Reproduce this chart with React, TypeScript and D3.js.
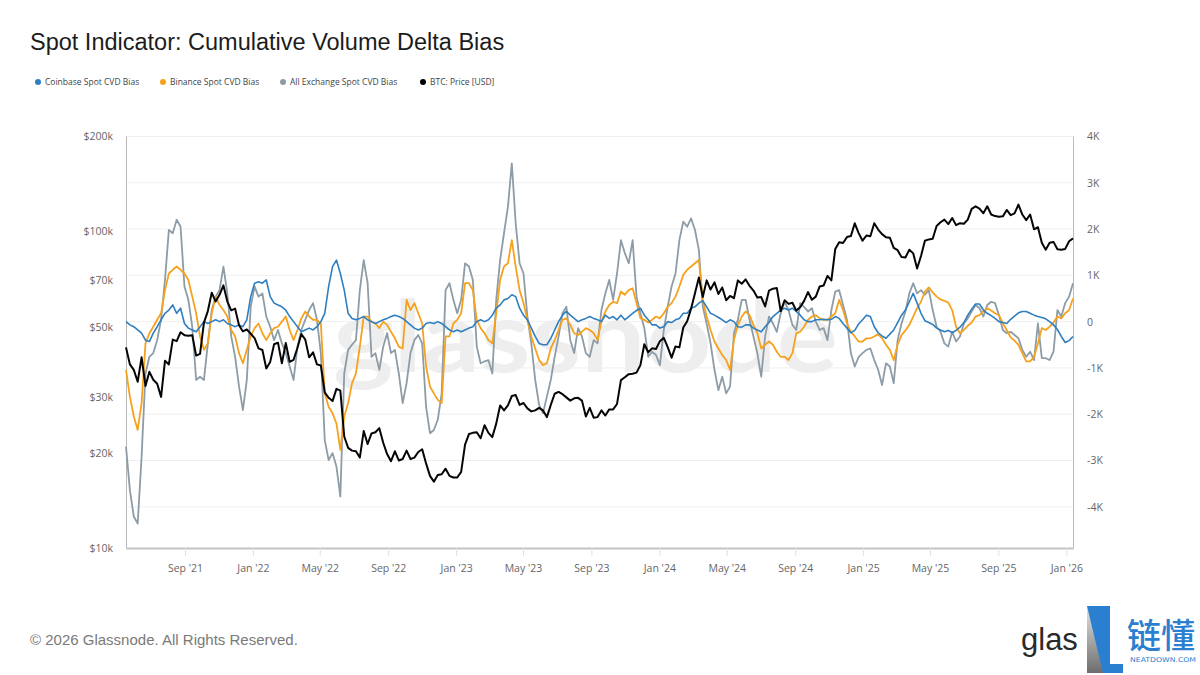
import React, { useEffect, useRef } from "react";
import * as d3 from "d3";

// weekly samples, first one on 2021-05-18
const startDate = new Date(2021, 4, 18);

const coinbaseBias = [
  0, -70, -110, -180, -250, -400, -430, -250, -110, 40,
  180, 250, 360, 180, 290, -40, -140, -180, -220, -110,
  0, -40, 0, 40, 0, 40, -40, -70, -110, -70,
  -110, 40, 540, 830, 860, 830, 900, 540, 400, 360,
  320, 250, 110, 0, -110, -220, -180, -140, -180, -110,
  0, 180, 760, 1190, 1330, 1040, 680, 180, 70, 40,
  70, 110,
  40, 0, -40, 0, 40, 70, 110, 140, 110, 70,
  0, -70, -140, -180, -140, -40, -20, -40, 0, -40,
  -110, -180, -220, -180, -220, -180, -140, -110, 0, 40,
  0, 40, 140, 290, 360, 470, 500, 580, 540, 290,
  140, 40, -140, -320, -470, -500, -500, -360, -180, 0,
  140, 220, 140, 70, 0, 40, 70, 110, 70, 40, 0,
  140, 70, 110, 40, 140, 40, 110, 180, 240, 290,
  140, 40, -70, -70, -140, -110, 0, -20, 40, 70,
  180, 180, 290, 320, 400, 450, 320, 180, 140, 90,
  40, -20, 40, 0, -110, -120, -70, -70, -140, -180,
  -220, -110, -20, 110, 180, 250, 290, 250, 290, 220,
  140, 40, 0, 0, 40, 40, 50, 40, 50, 110, 70, -40,
  -140, -240, -190, -50, 40, 140, 110, -110, -240, -310,
  -360, -270, -180, -20, 140, 250, 430, 610, 400, 180,
  20, -20, -60, -140, -180, -220, -190, -240, -190, -120,
  -20, 140, 270, 380, 380, 250, 180, 130, 70, 0,
  -20, -40, 50, 120, 190, 220, 220, 180, 140, 110,
  90, 60, 0, -70, -170, -320, -450, -410, -320,
];

const binanceBias = [
  -1040, -1620, -2050, -2340, -1760, -470, -250, -110, 40, 180,
  680, 1040, 1120, 1190, 1120, 1040, 900, 540, 180, -320,
  -610, -470, 180, 540, 360, 250, 110, -180, -320, -680,
  -900, -610, -320, -140, -40, -250, -400, -250, -140, -110,
  0, 110, -180, -400, -180, 70, 220, 110, 40, 40,
  -40, -1550, -1840, -1980, -2200, -2770, -2050, -1760, -1330, -1120,
  -540, 110,
  110, 0, -40, -140, 0, -70, -220, -360, -540, -580,
  470, 250, 400, 180, -40, -970, -1400, -1550, -1690, -1760,
  -320, -320, -40, 40, 180, 830, 830, 680, 40, -140,
  -250, -400, -470, 180, 900, 1190, 1260, 1760, 1190, 680,
  400, 40, -320, -580, -830, -940, -900, -580, -400, -180,
  40, 70, -70, -250, -290, -220, -140, -180, -250, -400, 0,
  220, 360, 430, 400, 650, 580, 680, 720, 400, 70,
  40, -20, 40, 110, 70, 180, 320, 400, 540, 760,
  1010, 1120, 1190, 1260, 1330, 470, 110, -180, -430, -580,
  -720, -830, -1040, -400, -70, 110, 220, 140, -70, -250,
  -580, -500, -430, -500, -650, -760, -760, -830, -680, -250,
  -220, -110, 40, 110, 140, 70, 40, 40, 110, 180, 470, 250,
  -40, -220, -320, -430, -430, -360, -360, -320, -270, -360,
  -500, -610, -830, -500, -290, -190, -70, 110, 290, 430,
  650, 740, 630, 540, 480, 450, 410, 250, -110, -250,
  -180, -90, -20, 110, 140, 220, 290, 240, 180, 140,
  -40, -180, -340, -410, -500, -680, -860, -860, -760, -470,
  -140, -180, -110, -20, 110, 70, 180, 250, 500,
];

const allExchangeBias = [
  -2700, -3640, -4210, -4360, -2920, -1120, -760, -680, -400, 40,
  900, 1980, 1910, 2200, 2050, 760, 470, -110, -1260, -1190,
  -1260, -470, 250, 540, 680, 1190, 610, -320, -760, -1400,
  -1910, -1260, 320, 760, 540, 610, 110, -110, -400, -180,
  -470, -680, -970, -1260, -540, -180, 40, 250, 400, 40,
  -680, -2560, -2990, -2840, -3130, -3780, -1120, -610, -500, -400,
  680, 1330,
  830, -760, -680, -1040, -540, -250, -680, -610, -1120, -1760,
  -1330, -680, -400, -290, -470, -1840, -2410, -2340, -2120, -1550,
  680, 830, 470, 180, 470, 1260, 1190, 900, -540, -900,
  -860, -830, -1120, 470, 1330, 1910, 2480, 3420, 2120, 1260,
  1040, 110, -470, -1260, -1800, -1980, -1620, -1260, -760, -320,
  180, 320, -400, -680, -140, -320, -680, -760, -400, -470, 250,
  610, 900, 470, 1040, 1760, 1480, 1260, 1760, 540, 180,
  -140, -760, -650, -720, -940, -180, 320, 760, 1040, 1760,
  2160, 2050, 2230, 1980, 1550, 320, -40, -470, -1040, -1480,
  -1190, -1550, -1400, -250, 40, 470, 470, 40, -320, -680,
  -1190, -320, 110, -40, -220, 180, 430, 250, -70, -180,
  400, 320, 220, 290, 0, -180, -140, -400, 250, 650, 680, 360,
  40, -680, -970, -760, -680, -610, -580, -830, -1040, -1370,
  -900, -970, -1330, -400, -40, 220, 610, 830, 610, 680,
  580, 680, 250, -110, -220, -470, -540, -220, -430, -320,
  -40, 70, 220, 360, 290, 110, 360, 430, 400, 140,
  -180, -250, -220, -290, -360, -610, -760, -650, -830, -40,
  -790, -790, -830, -650, 250, 110, 400, 540, 830,
];

const btcPrice = [
  // 2021
  43000, 38000, 36500, 33500, 40000, 32500, 36000, 34000, 33000, 30000,
  39000, 38000, 45500, 45000, 48000, 47000, 46800, 47000, 40500, 41000,
  51500, 56000, 64000, 60000, 63000, 67500, 60000, 56300, 57000, 50500,
  48300, 49000, 47500,
  // 2022
  46000, 42700, 42200, 36900, 38700, 44000, 44500, 38300, 44400, 38700,
  39300, 42900, 47400, 45500, 40000, 41500, 38000, 37700, 31000, 29800,
  29100, 31800, 31400, 22500, 20700, 20300, 20200, 19300, 23400, 21300,
  23000, 23200, 23900, 21500, 19800, 18800, 20200, 18900, 19100, 20300,
  19100, 19300, 20100, 20500, 18500, 16900, 16200, 17000, 17100, 17800,
  16900, 16700,
  // 2023
  16700, 17400, 21200, 22900, 23100, 23200, 22200, 24400, 23100, 22400,
  24700, 28200, 27200, 28200, 30200, 30400, 28300, 28700, 27600, 27000,
  27200, 27700, 27200, 25900, 28300, 30700, 31100, 30600, 29900, 29200,
  29700, 29800, 29200, 26000, 27700, 25800, 25900, 27200, 26200, 27400,
  27400, 28500, 33900, 34600, 35400, 35500, 35800, 37800, 44000, 41500,
  42700, 42500,
  // 2024
  45000, 46100, 43100, 39900, 43300, 43000, 49700, 52000, 57000, 63800,
  71500, 62000, 70000, 65500, 69000, 63400, 66500, 60600, 62500, 61500,
  70000, 68300, 70500, 67300, 65000, 61800, 62000, 57900, 65000, 65900,
  66200, 56000, 60600, 59000, 59500, 56200, 57600, 60300, 64300, 60800,
  62200, 67000, 67400, 72300, 70000, 88000, 92300, 91900, 95900, 96600,
  106000, 98700, 93400,
  // 2025
  97000, 96500, 106000, 101300, 98000, 95800, 95500, 88700, 87200, 82900,
  82700, 87500, 85200, 76300, 83600, 93400, 94300, 94700, 104000, 106800,
  108900, 105400, 110200, 104600, 106100, 105700, 108900, 117700, 119900, 117900,
  114000, 120000, 113000, 111700, 111200, 111500, 116800, 112500, 114000, 121500,
  113000, 108500, 113000, 101500, 103000, 92000, 87500, 92000, 92600, 87800,
  87500, 88000,
  // 2026
  93000, 95000,
];

const priceTicks = [10000, 20000, 30000, 50000, 70000, 100000, 200000];
const biasTicks = [-4000, -3000, -2000, -1000, 0, 1000, 2000, 3000, 4000];

const legendItems = [
  { label: "Coinbase Spot CVD Bias", color: "#2f7fc0", x: 38 },
  { label: "Binance Spot CVD Bias", color: "#f6a21e", x: 163 },
  { label: "All Exchange Spot CVD Bias", color: "#8d9ca6", x: 283 },
  { label: "BTC: Price [USD]", color: "#000000", x: 423 },
];

const font = "'Open Sans', 'DejaVu Sans', sans-serif";

export default function App() {
  const ref = useRef<SVGSVGElement>(null);

  useEffect(() => {
    const svg = d3.select(ref.current);
    svg.selectAll("*").remove();

    const left = 126, right = 1073, top = 136, bottom = 548;

    const dates = btcPrice.map((_, i) => d3.timeDay.offset(startDate, i * 7));
    const x = d3.scaleTime().domain([dates[0], dates[dates.length - 1]]).range([left, right]);
    const yPrice = d3.scaleLog().domain([10000, 200000]).range([bottom, top]);
    const yBias = d3.scaleLinear().domain([-4890, 4010]).range([bottom, top]);

    svg.append("rect").attr("width", 1200).attr("height", 675).attr("fill", "#fff");

    // title
    svg.append("text")
      .attr("x", 30).attr("y", 50)
      .attr("font-family", "Arial, 'Liberation Sans', sans-serif")
      .attr("font-size", 23.5)
      .attr("fill", "#1c1c1c")
      .text("Spot Indicator: Cumulative Volume Delta Bias");

    // legend
    const legend = svg.append("g");
    legendItems.forEach(item => {
      legend.append("circle").attr("cx", item.x).attr("cy", 82).attr("r", 3).attr("fill", item.color);
      legend.append("text")
        .attr("x", item.x + 7).attr("y", 85)
        .attr("font-family", font).attr("font-size", 8.5).attr("fill", "#444")
        .text(item.label);
    });

    // horizontal grid from the right axis
    svg.append("g").selectAll("line")
      .data(biasTicks)
      .join("line")
      .attr("x1", left).attr("x2", right)
      .attr("y1", d => yBias(d)).attr("y2", d => yBias(d))
      .attr("stroke", "#efefef").attr("stroke-width", 1);

    // watermark
    svg.append("text")
      .attr("x", 333).attr("y", 372)
      .attr("textLength", 505).attr("lengthAdjust", "spacingAndGlyphs")
      .attr("font-family", "Lato, 'Open Sans', sans-serif")
      .attr("font-size", 100)
      .attr("font-weight", 700)
      .attr("fill", "#eeeeee")
      .text("glassnode");

    const styleAxis = (g: any, domainColor: string) => {
      g.select(".domain").attr("stroke", domainColor);
      g.selectAll("text").attr("font-family", font).attr("font-size", 10.5).attr("fill", "#666");
    };

    svg.append("g")
      .attr("transform", `translate(${left},0)`)
      .call(d3.axisLeft(yPrice).tickValues(priceTicks)
        .tickFormat((d: any) => `$${d / 1000}k`).tickSize(0).tickPadding(13))
      .call((g: any) => styleAxis(g, "#b8b8b8"));

    svg.append("g")
      .attr("transform", `translate(${right},0)`)
      .call(d3.axisRight(yBias).tickValues(biasTicks)
        .tickFormat((d: any) => (d === 0 ? "0" : `${d / 1000}K`)).tickSize(0).tickPadding(14))
      .call((g: any) => styleAxis(g, "#a9bfd3"));

    const xAxis = svg.append("g")
      .attr("transform", `translate(0,${bottom})`)
      .call(d3.axisBottom(x).ticks(d3.timeMonth.every(4))
        .tickFormat(d3.timeFormat("%b '%y") as any).tickSize(8).tickSizeOuter(0).tickPadding(9))
      .call((g: any) => styleAxis(g, "#c4c4c4"));
    xAxis.select(".domain").attr("stroke-width", 2);
    xAxis.selectAll(".tick line").attr("stroke", "#e2e2e2");

    const biasLine = d3.line<number>()
      .x((_, i) => x(dates[i]))
      .y(d => yBias(d));
    const priceLine = d3.line<number>()
      .x((_, i) => x(dates[i]))
      .y(d => yPrice(d));

    const plot = svg.append("g").attr("fill", "none").attr("stroke-linejoin", "round");
    plot.append("path").attr("d", biasLine(allExchangeBias)).attr("stroke", "#8d9ca6").attr("stroke-width", 1.8);
    plot.append("path").attr("d", biasLine(binanceBias)).attr("stroke", "#f6a21e").attr("stroke-width", 1.8);
    plot.append("path").attr("d", biasLine(coinbaseBias)).attr("stroke", "#2f7fc0").attr("stroke-width", 1.6);
    plot.append("path").attr("d", priceLine(btcPrice)).attr("stroke", "#050505").attr("stroke-width", 2);

    // footer
    svg.append("text")
      .attr("x", 30).attr("y", 645)
      .attr("font-family", "Arial, 'Liberation Sans', sans-serif")
      .attr("font-size", 15).attr("fill", "#7a7a7a")
      .text("\u00a9 2026 Glassnode. All Rights Reserved.");

    // brand mark, bottom right
    const brand = svg.append("g");
    brand.append("text")
      .attr("x", 1021).attr("y", 650)
      .attr("font-family", "Arial, 'Liberation Sans', sans-serif")
      .attr("font-size", 31).attr("fill", "#2a2a2a")
      .text("glas");
    const grad = svg.append("defs").append("linearGradient")
      .attr("id", "brandGrey").attr("x1", 0).attr("y1", 0).attr("x2", 0).attr("y2", 1);
    grad.append("stop").attr("offset", 0).attr("stop-color", "#e4e4e4");
    grad.append("stop").attr("offset", 1).attr("stop-color", "#6d6d6d");
    brand.append("path")
      .attr("d", "M1087,606 L1110,606 L1110,664 L1123,664 L1123,673 L1087,673 Z")
      .attr("fill", "#2b7fd1");
    brand.append("path")
      .attr("d", "M1087,606 L1103,673 L1087,673 Z")
      .attr("fill", "url(#brandGrey)");
    brand.append("text")
      .attr("x", 1127).attr("y", 648)
      .attr("font-family", "'Noto Sans CJK SC', sans-serif")
      .attr("font-size", 34).attr("font-weight", 500).attr("fill", "#2b7fd1")
      .text("链懂");
    brand.append("text")
      .attr("x", 1130).attr("y", 662)
      .attr("textLength", 66).attr("lengthAdjust", "spacingAndGlyphs")
      .attr("font-family", "'DejaVu Sans', sans-serif")
      .attr("font-size", 6.5).attr("fill", "#2b7fd1")
      .text("NEATDOWN.COM");
  }, []);

  return (
    <svg
      ref={ref}
      width={1200}
      height={675}
      style={{ position: "absolute", left: 0, top: 0, display: "block" }}
    />
  );
}
